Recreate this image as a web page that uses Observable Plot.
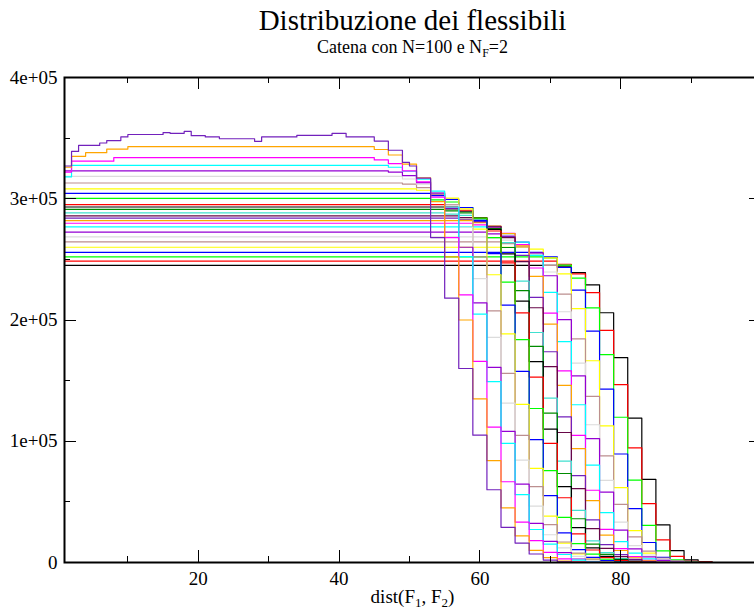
<!DOCTYPE html>
<html><head><meta charset="utf-8">
<script src="https://cdn.jsdelivr.net/npm/d3@7"></script>
<script src="https://cdn.jsdelivr.net/npm/@observablehq/plot@0.6"></script>
<style>
html,body{margin:0;padding:0;overflow:hidden;background:#fff;}
#wrap{position:relative;width:754px;height:610px;overflow:hidden;}
</style></head>
<body><div id="wrap"></div>
<script>
// Histogram series: [bin start, count in thousands]; a step holds until the next point.
const s01 = [[1,245],[71,244.5],[73,239],[75,229],[77,206],[79,169],[81,119],[83,68.6],[85,31],[87,9.8],[89,2.2],[91,0.5],[93,0],[100,0]];
const s02 = [[1,248.6],[71,246],[73,238],[75,222.5],[77,191.4],[79,146.7],[81,94.5],[83,48.5],[85,18.6],[87,5],[89,1],[91,0.3],[93,0],[100,0]];
const s03 = [[1,252],[69,251.3],[71,245.3],[73,234.6],[75,210],[77,171.4],[79,119.8],[81,68],[83,30.7],[85,9.6],[87,2.1],[89,0.5],[91,0],[100,0]];
const s04 = [[1,255.8],[69,252],[71,243.3],[73,224.6],[75,190.8],[77,143],[79,89.5],[81,44.5],[83,16.5],[85,4.3],[87,0.9],[89,0.2],[91,0],[100,0]];
const s05 = [[1,260],[67,258.4],[69,251.3],[71,238],[73,209.3],[75,166.4],[77,112.6],[79,61.8],[81,26.3],[83,7.8],[85,1.7],[87,0.4],[89,0],[100,0]];
const s06 = [[1,264.5],[63,263],[65,260.3],[67,254.4],[69,245],[71,221.4],[73,184.4],[75,137],[77,88],[79,47.9],[81,21.2],[83,9.3],[85,3.7],[87,1.3],[89,0.3],[91,0],[100,0]];
const s07 = [[1,268.6],[61,267.5],[63,265.9],[65,261.9],[67,254.1],[69,239.6],[71,206.8],[73,164.4],[75,113.6],[77,67.7],[79,33.3],[81,14],[83,6.2],[85,2.4],[87,0.5],[89,0],[100,0]];
const s08 = [[1,272.5],[61,271.1],[63,269.2],[65,264.3],[67,255.3],[69,236.5],[71,200.3],[73,154],[75,102.2],[77,58],[79,26.7],[81,11.2],[83,4.6],[85,1.8],[87,0.4],[89,0],[100,0]];
const s09 = [[1,276.8],[61,274.9],[63,271.3],[65,264.3],[67,253.3],[69,222.8],[71,182.1],[73,130.1],[75,80.3],[77,41.2],[79,17.2],[81,7.8],[83,3],[85,0.8],[87,0],[100,0]];
const s10 = [[1,279.8],[59,278.4],[61,276.4],[63,271.4],[65,262.2],[67,242.9],[69,205.7],[71,158.1],[73,104.9],[75,59.6],[77,27.4],[79,11.5],[81,4.8],[83,1.8],[85,0.4],[87,0],[100,0]];
const s11 = [[1,282],[59,280.3],[61,277.5],[63,271.3],[65,261.1],[67,236],[69,196.6],[71,146.1],[73,93.9],[75,51],[77,22.6],[79,9.9],[81,3.9],[83,1.4],[85,0.3],[87,0],[100,0]];
const s12 = [[1,284],[57,282.9],[59,281.2],[61,276.9],[63,268.7],[65,253.3],[67,218.7],[69,173.8],[71,120.1],[73,71.6],[75,35.2],[77,14.8],[79,6.5],[81,2.6],[83,0.6],[85,0],[100,0]];
const s13 = [[1,285.9],[57,284.5],[59,282.5],[61,277.3],[63,267.9],[65,248.2],[67,210.1],[69,161.5],[71,107.2],[73,60.9],[75,28],[77,11.7],[79,4.9],[81,1.9],[83,0.4],[85,0],[100,0]];
const s14 = [[1,288.3],[55,287.4],[57,286.3],[59,282.5],[61,275.3],[63,263.8],[65,232.1],[67,189.7],[69,135.5],[71,83.6],[73,43],[75,17.9],[77,8.1],[79,3.2],[81,0.9],[83,0],[100,0]];
const s15 = [[1,291.2],[55,290],[57,288.3],[59,283.9],[61,275.5],[63,259.8],[65,224.2],[67,178.2],[69,123.2],[71,73.4],[73,36.1],[75,15.1],[77,6.7],[79,2.6],[81,0.6],[83,0],[100,0]];
const s16 = [[1,293.2],[55,291.7],[57,289.7],[59,284.4],[61,274.7],[63,254.5],[65,215.5],[67,165.7],[69,110],[71,62.5],[73,28.7],[75,12],[77,5],[79,1.9],[81,0.4],[83,0],[100,0]];
const s17 = [[1,295.2],[55,293.4],[57,290.5],[59,284],[61,273.4],[63,247.1],[65,205.8],[67,152.9],[69,98.3],[71,53.4],[73,23.6],[75,10.3],[77,4.1],[79,1.5],[81,0.3],[83,0],[100,0]];
const s18 = [[1,300.3],[53,299.1],[55,297.3],[57,292.8],[59,284.1],[61,267.9],[63,231.2],[65,183.8],[67,127],[69,75.7],[71,37.2],[73,15.6],[75,6.9],[77,2.7],[79,0.6],[81,0],[100,0]];
const s19 = [[1,304.4],[53,302.6],[55,299.5],[57,292.8],[59,281.9],[61,254.8],[63,212.2],[65,157.7],[67,101.4],[69,55.1],[71,24.4],[73,10.7],[75,4.3],[77,1.5],[79,0.3],[81,0],[100,0]];
const s20 = [[1,308.2],[51,307],[53,305.1],[55,300.5],[57,291.6],[59,274.9],[61,237.3],[63,188.6],[65,130.4],[67,77.7],[69,38.2],[71,16],[73,7.1],[75,2.8],[77,0.6],[79,0],[100,0]];
const s21 = [[1,313],[49,312.1],[51,309.2],[53,303.6],[55,295.2],[57,283.3],[59,252],[61,207.5],[63,155.9],[65,104.9],[67,62.6],[69,31.3],[71,16.9],[73,7.8],[75,2.8],[77,0.6],[79,0],[100,0]];
const s22 = [[1,318.5],[49,316.3],[51,312.1],[53,305.1],[55,294.6],[57,276.5],[59,234.1],[61,185.7],[63,131.5],[65,84.4],[67,46.5],[69,22.9],[71,12.1],[73,5.1],[75,1.4],[77,0.3],[79,0],[100,0]];
const s23 = [[1,323],[47,322],[49,319.1],[51,313.3],[53,304.6],[55,292.3],[57,260],[59,214.1],[61,160.9],[63,108.2],[65,64.6],[67,32.3],[69,17.4],[71,8.1],[73,2.9],[75,0.6],[77,0],[100,0]];
const s24 = [[1,318],[2,327.6],[47,326],[49,322.7],[51,316.1],[53,306.3],[55,293.2],[57,252.3],[59,204.8],[61,149.1],[63,98.3],[65,56],[67,27.2],[69,15.1],[71,6.6],[73,2],[75,0.3],[77,0],[100,0]];
const s25 = [[1,322],[2,331],[8,334],[45,332],[47,329],[49,323],[51,314],[53,301.4],[55,268],[57,220.8],[59,165.8],[61,111.6],[63,66.6],[65,33.3],[67,18],[69,8.3],[71,3],[73,0.7],[75,0],[100,0]];
const s26 = [[1,326],[2,335],[4,338],[7,341],[10,343],[45,340.6],[47,336.1],[49,328.6],[51,317.3],[53,297.7],[55,252.1],[57,200],[59,135],[61,84],[63,45],[65,22],[67,10],[69,4],[71,1.2],[73,0.3],[75,0],[100,0]];
const s27 = [[1,327],[2,339],[3,344],[6,346],[7,348],[9,351],[10,353],[15,354.5],[16,354],[18,355.5],[19,352],[21,351],[23,349.5],[28,347.4],[29,351],[34,352.3],[39,354],[41,351],[45,347.6],[47,340],[49,330],[50,327],[51,317],[53,268],[55,218],[57,160],[59,105],[61,60],[63,29],[65,16],[67,7],[69,2],[71,0.5],[73,0],[100,0]];

const xMajor = [20, 40, 60, 80, 100];
const xMinor = [10, 30, 50, 70, 90];
const xLabelTicks = [20, 40, 60, 80];
const yMajor = [0, 100, 200, 300, 400];
const yMinor = [50, 150, 250, 350];
const yLabels = ["0", "1e+05", "2e+05", "3e+05", "4e+05"];

const series = [s01,s02,s03,s04,s05,s06,s07,s08,s09,s10,s11,s12,s13,s14,s15,s16,s17,s18,s19,s20,s21,s22,s23,s24,s25,s26,s27];
const palette = ["#000000","#ff0000","#00ff00","#0000ff","#ffff00","#bc8f8f","#dcdcdc","#9400d3","#00ffff","#ff00ff","#ffa500","#7221bc","#670748","#40e0d0","#008b00"];

const W = 770, H = 610, mL = 64, mR = 9, mT = 77, mB = 48;
const pw = W - mL - mR, ph = H - mT - mB;
const MAJ = 12, MIN = 6;

const marks = [];
series.forEach((s, i) => {
  marks.push(Plot.line(s, {x: d => d[0], y: d => d[1], curve: "step-after",
    stroke: palette[i % palette.length], strokeWidth: 1.2}));
});
const tk = {stroke: "black", strokeWidth: 1, shapeRendering: "crispEdges"};
marks.push(
  Plot.tickX(xMajor, {x: d => d, insetTop: ph - MAJ, ...tk}),
  Plot.tickX(xMinor, {x: d => d, insetTop: ph - MIN, ...tk}),
  Plot.tickX(xMajor, {x: d => d, insetBottom: ph - MAJ, ...tk}),
  Plot.tickX(xMinor, {x: d => d, insetBottom: ph - MIN, ...tk}),
  Plot.tickY(yMajor, {y: d => d, insetRight: pw - MAJ, ...tk}),
  Plot.tickY(yMinor, {y: d => d, insetRight: pw - MIN, ...tk}),
  Plot.tickY(yMajor, {y: d => d, insetLeft: pw - MAJ, ...tk}),
  Plot.tickY(yMinor, {y: d => d, insetLeft: pw - MIN, ...tk}),
  Plot.axisX(xLabelTicks, {tickSize: 0, tickPadding: 9, fontSize: 19, label: null, tickFormat: d => String(d)}),
  Plot.axisY(yMajor, {tickSize: 0, tickPadding: 7, fontSize: 19, label: null, tickFormat: d => yLabels[yMajor.indexOf(d)]}),
  Plot.frame({stroke: "black", strokeWidth: 2})
);

const chart = Plot.plot({
  width: W, height: H,
  marginLeft: mL, marginRight: mR, marginTop: mT, marginBottom: mB,
  x: {domain: [1, 100]},
  y: {domain: [0, 400]},
  style: {fontFamily: "'Liberation Serif', 'Times New Roman', serif", fontSize: "19px", maxWidth: "none", background: "white", color: "black"},
  marks
});
document.getElementById("wrap").appendChild(chart);

const svg = d3.select(chart);
const cx = mL + pw / 2;
svg.append("text").attr("x", cx).attr("y", 30).attr("text-anchor", "middle")
  .attr("font-size", 29).attr("fill", "black").text("Distribuzione dei flessibili");
const sub = svg.append("text").attr("x", cx).attr("y", 52.5).attr("text-anchor", "middle")
  .attr("font-size", 18).attr("fill", "black");
sub.append("tspan").text("Catena con N=100 e N");
sub.append("tspan").attr("font-size", 12).attr("dy", 4).text("F");
sub.append("tspan").attr("dy", -4).text("=2");
const xl = svg.append("text").attr("x", cx).attr("y", 603).attr("text-anchor", "middle")
  .attr("font-size", 19).attr("fill", "black");
xl.append("tspan").text("dist(F");
xl.append("tspan").attr("font-size", 13).attr("dy", 4).text("1");
xl.append("tspan").attr("dy", -4).text(", F");
xl.append("tspan").attr("font-size", 13).attr("dy", 4).text("2");
xl.append("tspan").attr("dy", -4).text(")");
</script>
</body></html>
